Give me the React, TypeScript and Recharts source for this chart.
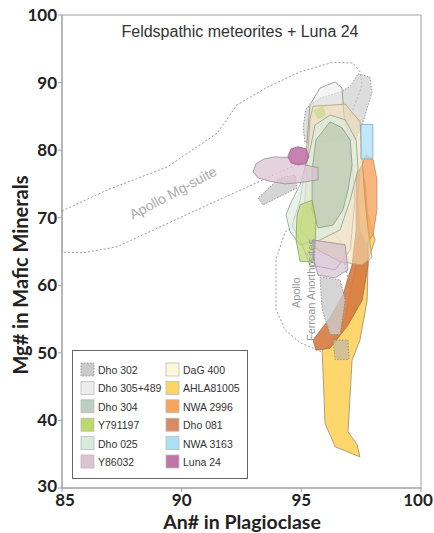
import React from 'react';
import { ScatterChart, Scatter, XAxis, YAxis, ReferenceArea, Customized } from 'recharts';

type P = [number, number];

const xTicks = [85, 90, 95, 100];
const yTicks = [30, 40, 50, 60, 70, 80, 90, 100];

const legendNames = ['Dho 302', 'Dho 305+489', 'Dho 304', 'Y791197', 'Dho 025', 'Y86032', 'DaG 400', 'AHLA81005', 'NWA 2996', 'Dho 081', 'NWA 3163', 'Luna 24'];
const legendColors = ['#cbcbcb', '#ececed', '#bccfc2', '#bcd86e', '#d8ecde', '#dcc3d3', '#fff8d9', '#fdd563', '#f8a45b', '#d98b63', '#ace0f6', '#c074a9'];

// Outlines (An#, Mg#)
const mgSuite: P[] = [[85, 71.0], [86.88, 74.1], [89.39, 77.5], [91.48, 82.5], [92.31, 86.7], [93.57, 89.3], [94.95, 91.6], [96.32, 93.0], [97.16, 92.9], [97.45, 91.6], [97.54, 89.6], [96.83, 83.0], [94.95, 78.1], [90.35, 70.7], [87.3, 65.7], [85.88, 64.8], [85, 64.9]];
const ferroan: P[] = [[94.95, 69.4], [94.32, 67.9], [93.94, 63.8], [93.94, 56.4], [94.32, 53.4], [94.95, 51.5], [95.7, 50.4], [96.41, 49.3], [97.04, 49.6], [97.2, 53.4], [97.12, 57.8], [96.62, 66.7], [95.78, 69.7]];

// Meteorite fields
const ahla: P[] = [[95.87, 50.4], [95.99, 39.6], [96.41, 36.1], [97.45, 34.6], [97.33, 36.4], [96.95, 38.3], [97.12, 48.9], [97.45, 51.9], [97.75, 57.8], [97.79, 63.8], [98.08, 66.7], [97.79, 70.4], [97.37, 66.7], [97.24, 62.3], [96.83, 55.2], [96.2, 51.2]];
const dho081: P[] = [[95.49, 51.9], [95.61, 50.4], [96.2, 50.7], [96.95, 54.1], [97.54, 57.8], [97.79, 63.0], [97.79, 68.2], [97.7, 74.1], [97.54, 77.8], [97.29, 76.3], [97.29, 68.2], [97.12, 63.0], [96.74, 58.6], [96.2, 55.2]];
const nwa2996: P[] = [[97.7, 79.3], [98.0, 78.6], [98.16, 75.6], [98.16, 71.2], [98.0, 67.5], [97.7, 66.0], [97.45, 68.2], [97.37, 72.6], [97.45, 77.1]];
const dho302Top: P[] = [[95.15, 81.2], [95.07, 83.4], [95.2, 86.2], [95.78, 87.7], [96.62, 88.6], [97.04, 89.4], [97.37, 91.3], [97.87, 90.8], [97.95, 88.5], [97.75, 86.2], [97.54, 83.7], [97.24, 81.5], [96.62, 81.5], [95.78, 81.2]];
const dho302Bar: P[] = [[93.19, 72.9], [93.4, 71.9], [94.82, 74.4], [94.74, 76.3], [94.11, 75.9]];
const dho302Low: P[] = [[95.78, 61.2], [96.62, 60.8], [96.83, 57.8], [96.62, 52.7], [96.2, 52.7], [95.87, 56.4]];
const dho302Box: P[] = [[96.32, 51.9], [96.95, 51.9], [96.99, 49.0], [96.41, 49.0]];
const dho305: P[] = [[95.28, 83.0], [95.36, 86.7], [95.78, 89.2], [96.41, 90.1], [96.7, 89.2], [96.78, 85.2], [97.04, 81.5], [97.24, 72.6], [97.04, 65.2], [96.41, 62.3], [95.36, 63.0], [94.95, 66.7], [94.61, 68.9], [94.95, 72.6], [95.15, 77.1]];
const dag400: P[] = [[95.49, 86.5], [96.83, 86.8], [97.45, 84.2], [97.54, 78.6], [97.66, 72.6], [97.79, 68.2], [97.95, 64.1], [97.54, 63.0], [96.62, 63.5], [95.7, 65.2], [94.95, 68.2], [95.15, 72.6], [95.28, 80.0], [95.36, 84.5]];
const dho025: P[] = [[94.95, 74.9], [95.36, 80.0], [95.57, 83.7], [96.2, 85.2], [96.83, 84.5], [97.29, 81.5], [97.37, 77.1], [97.04, 72.6], [96.62, 68.2], [95.78, 66.7], [94.95, 66.0], [94.53, 67.9], [94.36, 70.4], [94.61, 72.6]];
const dho304: P[] = [[96.2, 84.2], [96.7, 83.3], [97.04, 81.5], [97.12, 77.8], [96.95, 74.1], [96.74, 71.2], [96.32, 68.9], [95.7, 68.5], [95.45, 71.2], [95.45, 77.1], [95.61, 81.5]];
const y791197: P[] = [[94.95, 71.9], [95.45, 72.6], [95.61, 69.7], [95.57, 65.2], [95.49, 63.5], [94.95, 63.5], [94.78, 66.7], [94.82, 70.4]];
const y791197Top: P[] = [[95.49, 85.9], [95.91, 86.5], [96.03, 85.2], [95.7, 84.5]];
const y86032Lobe: P[] = [[92.98, 76.8], [93.11, 78.0], [93.44, 78.7], [93.9, 79.0], [94.44, 78.9], [94.78, 78.1], [95.7, 77.4], [95.7, 75.6], [94.95, 75.2], [94.32, 75.0], [93.69, 75.4], [93.19, 75.9]];
const y86032Low: P[] = [[95.49, 66.7], [96.83, 66.0], [96.95, 62.3], [96.41, 61.1], [95.7, 61.5], [95.49, 64.1]];
const nwa3163: P[] = [[97.49, 83.8], [97.99, 83.8], [97.99, 78.7], [97.49, 78.7]];
const luna24: P[] = [[95.32, 79.1], [95.2, 80.2], [94.86, 80.5], [94.57, 80.2], [94.44, 79.1], [94.57, 78.1], [94.86, 77.8], [95.2, 78.1]];

// Annotation anchors (An#, Mg#) and their texts
const noteTexts = ['Apollo Mg-suite', 'Apollo', 'Ferroan Anorthosites'];
const noteAnchors: P[] = [[89.64, 73.7], [94.78, 58.9], [95.41, 59.3]];

interface Field { key: string; data: P[]; fill: string; opacity: number; stroke: string; dash?: string; }

const fields: Field[] = [
  { key: 'mg', data: mgSuite, fill: 'none', opacity: 0, stroke: '#8c8c8c', dash: '2 2' },
  { key: 'fan', data: ferroan, fill: 'none', opacity: 0, stroke: '#8c8c8c', dash: '2 2' },
  { key: 'ahla', data: ahla, fill: legendColors[7], opacity: 0.95, stroke: '#9a8a70' },
  { key: 'd081', data: dho081, fill: '#d67a3e', opacity: 0.9, stroke: '#a0704f' },
  { key: 'n2996', data: nwa2996, fill: legendColors[8], opacity: 0.8, stroke: '#c08a60' },
  { key: 'd302a', data: dho302Top, fill: legendColors[0], opacity: 0.65, stroke: '#888', dash: '1.5 1.5' },
  { key: 'd302b', data: dho302Bar, fill: legendColors[0], opacity: 0.8, stroke: '#888', dash: '1.5 1.5' },
  { key: 'd302c', data: dho302Low, fill: legendColors[0], opacity: 0.8, stroke: '#888', dash: '1.5 1.5' },
  { key: 'd302d', data: dho302Box, fill: '#bfb8a5', opacity: 0.7, stroke: '#888', dash: '1.5 1.5' },
  { key: 'd305', data: dho305, fill: legendColors[1], opacity: 0.6, stroke: '#8a8a8a' },
  { key: 'dag', data: dag400, fill: '#f2dcb4', opacity: 0.6, stroke: '#b89a70' },
  { key: 'd025', data: dho025, fill: legendColors[4], opacity: 0.6, stroke: '#8aa08f' },
  { key: 'd304', data: dho304, fill: '#b3c1a8', opacity: 0.6, stroke: '#8a9a8a' },
  { key: 'y79', data: y791197, fill: legendColors[3], opacity: 0.7, stroke: '#8aa060' },
  { key: 'y79t', data: y791197Top, fill: legendColors[3], opacity: 0.5, stroke: 'none' },
  { key: 'y86a', data: y86032Lobe, fill: legendColors[5], opacity: 0.75, stroke: '#9a8a95' },
  { key: 'y86b', data: y86032Low, fill: '#cdb5cc', opacity: 0.6, stroke: '#9a8a95' },
  { key: 'n3163', data: nwa3163, fill: legendColors[10], opacity: 0.75, stroke: '#80a8c0' },
  { key: 'luna', data: luna24, fill: legendColors[11], opacity: 0.9, stroke: '#9a6a8a' },
];

const noteStyles = [
  { size: 14, rot: -28, color: '#aaa', dy: 5 },
  { size: 11, rot: -90, color: '#999', dy: 4 },
  { size: 11, rot: -90, color: '#999', dy: 4 },
];

const toPts = (a: P[]) => a.map(([x, y]) => ({ x, y }));

const polyLine = (f: Field) => (p: any) => {
  const pts: { x: number; y: number }[] = p.points || [];
  const d = pts.map((q, i) => `${i ? 'L' : 'M'}${q.x},${q.y}`).join('') + 'Z';
  return (
    <path d={d} fill={f.fill} fillOpacity={f.opacity} stroke={f.stroke} strokeWidth={f.fill === 'none' ? 0.9 : 0.8} strokeDasharray={f.dash} />
  );
};

const Empty = () => <g />;

const noteShape = (i: number) => (p: any) => {
  const s = noteStyles[i];
  const cx = p.cx;
  const cy = p.cy;
  return (
    <text x={cx} y={cy + s.dy} textAnchor="middle" fontFamily="Liberation Sans" fontSize={s.size} fill={s.color} transform={`rotate(${s.rot} ${cx} ${cy})`}>{noteTexts[i]}</text>
  );
};

const XTick = (props: any) => {
  const { x, y, payload } = props;
  const tx = payload.value === 100 ? x - 3 : payload.value === 85 ? x + 3 : x;
  return (
    <text x={tx} y={y + 12} textAnchor="middle" fontFamily="Lato" fontWeight={700} fontSize={17} fill="#222">{payload.value}</text>
  );
};
const YTick = (props: any) => {
  const { x, y, payload } = props;
  const ty = payload.value === 30 ? y + 4 : y + 6;
  return (
    <text x={x + 1} y={ty} textAnchor="end" fontFamily="Lato" fontWeight={700} fontSize={17} fill="#222">{payload.value}</text>
  );
};

const Overlay = () => (
  <g>
    <text x={240} y={37} textAnchor="middle" fontFamily="Liberation Sans" fontSize={16} fill="#333">Feldspathic meteorites + Luna 24</text>
    <text x={242} y={529} textAnchor="middle" fontFamily="Lato" fontWeight={700} fontSize={19.5} fill="#222">An# in Plagioclase</text>
    <text x={28} y={275} textAnchor="middle" fontFamily="Lato" fontWeight={700} fontSize={20} fill="#222" transform="rotate(-90 28 275)">Mg# in Mafic Minerals</text>
    <rect x={72.5} y={350.5} width={175} height={128} fill="#fff" stroke="#666" strokeWidth={1} />
    {legendNames.map((n, i) => {
      const col = i < 6 ? 0 : 1;
      const row = i % 6;
      const sx = col ? 166 : 81;
      const cy = 370 + row * 18.4;
      return (
        <g key={n}>
          <rect x={sx} y={cy - 7} width={13} height={13} fill={legendColors[i]} stroke={i === 0 ? '#888' : '#bbb'} strokeDasharray={i === 0 ? '1.5 1.5' : undefined} strokeWidth={0.8} />
          <text x={sx + 17} y={cy + 4} fontFamily="Liberation Sans" fontSize={10.5} fill="#333">{n}</text>
        </g>
      );
    })}
  </g>
);

export default function App() {
  return (
    <div style={{ position: 'absolute', left: 0, top: 0, width: 434, height: 533, background: '#fff' }}>
      <ScatterChart width={434} height={533} margin={{ top: 15, right: 13, bottom: 0, left: 22 }}>
        <XAxis type="number" dataKey="x" domain={[85, 100]} ticks={xTicks} allowDataOverflow height={45} tick={<XTick />} stroke="#a0a0a0" tickSize={4} interval={0} />
        <YAxis type="number" dataKey="y" domain={[30, 100]} ticks={yTicks} allowDataOverflow width={40} tick={<YTick />} stroke="#a0a0a0" tickSize={4} interval={0} />
        <ReferenceArea x1={85} x2={100} y1={30} y2={100} fill="none" stroke="#a0a0a0" strokeWidth={1} />
        <Customized component={<Overlay />} />
        {fields.map((f) => (
          <Scatter key={f.key} data={toPts(f.data)} fill={f.fill === 'none' ? '#888' : f.fill} shape={<Empty />} line={polyLine(f)} lineType="joint" isAnimationActive={false} />
        ))}
        {noteAnchors.map((a, i) => (
          <Scatter key={noteTexts[i]} data={toPts([a])} fill="#999" shape={noteShape(i)} isAnimationActive={false} />
        ))}
      </ScatterChart>
    </div>
  );
}
